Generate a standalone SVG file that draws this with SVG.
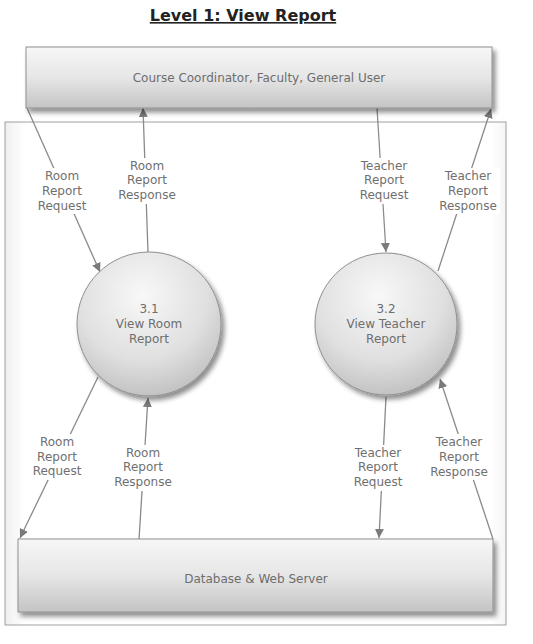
<svg xmlns="http://www.w3.org/2000/svg" width="533" height="644" viewBox="0 0 533 644">
<defs>
<linearGradient id="boxg" x1="0" y1="0" x2="0" y2="1">
<stop offset="0" stop-color="#f7f7f7"/>
<stop offset="0.5" stop-color="#e6e6e6"/>
<stop offset="1" stop-color="#c4c4c4"/>
</linearGradient>
<radialGradient id="circg" cx="0.45" cy="0.3" r="0.75">
<stop offset="0" stop-color="#f8f8f8"/>
<stop offset="0.6" stop-color="#e0e0e0"/>
<stop offset="1" stop-color="#bdbdbd"/>
</radialGradient>
<linearGradient id="frameg" x1="0" y1="0" x2="1" y2="0">
<stop offset="0" stop-color="#efefef"/>
<stop offset="0.04" stop-color="#ffffff"/>
<stop offset="0.97" stop-color="#ffffff"/>
<stop offset="1" stop-color="#f4f4f4"/>
</linearGradient>
<filter id="sh" x="-10%" y="-10%" width="125%" height="140%">
<feGaussianBlur in="SourceAlpha" stdDeviation="2.5"/>
<feOffset dx="3" dy="4" result="b"/>
<feComponentTransfer><feFuncA type="linear" slope="0.45"/></feComponentTransfer>
<feMerge><feMergeNode/><feMergeNode in="SourceGraphic"/></feMerge>
</filter>
<marker id="ah" viewBox="0 0 10 10" refX="10" refY="5" markerWidth="9" markerHeight="9" markerUnits="userSpaceOnUse" orient="auto">
<path d="M0,0 L10,5 L0,10 z" fill="#7a7a7a"/>
</marker>
</defs>
<style>
.t{font-family:"DejaVu Sans",Verdana,sans-serif;font-size:12px;fill:#6e6e6e;text-anchor:middle}
.lbl{font-family:"DejaVu Sans",Verdana,sans-serif;font-size:12px;fill:#707070;text-anchor:middle}
.ln{stroke:#8a8a8a;stroke-width:1.3;fill:none;marker-end:url(#ah)}
.bg{fill:#ffffff}
.ent{fill:url(#boxg);stroke:#8f8f8f;stroke-width:1}
.proc{fill:url(#circg);stroke:#8f8f8f;stroke-width:1}
</style>
<rect width="533" height="644" fill="#ffffff"/>
<text x="243" y="21" font-family="'DejaVu Sans',Verdana,sans-serif" font-size="16" font-weight="bold" fill="#222" text-anchor="middle" text-decoration="underline">Level 1: View Report</text>
<g id="frame">
<rect x="5" y="122" width="501" height="503" fill="url(#frameg)" stroke="#a0a0a0" stroke-width="1"/>
</g>
<g id="connectors">
<line class="ln" x1="27" y1="108" x2="100" y2="272"/>
<line class="ln" x1="148" y1="252" x2="143" y2="108"/>
<line class="ln" x1="377" y1="108" x2="386" y2="252"/>
<line class="ln" x1="438" y1="271" x2="491" y2="109"/>
<line class="ln" x1="98" y1="377" x2="20" y2="538"/>
<line class="ln" x1="139" y1="539" x2="148" y2="398"/>
<line class="ln" x1="386" y1="397" x2="379" y2="538"/>
<line class="ln" x1="493" y1="539" x2="440" y2="379"/>
</g>
<g id="labels">
<g id="l1"><rect class="bg" x="35" y="168" width="54" height="46"/><text class="lbl" x="62" y="180">Room</text><text class="lbl" x="62" y="195">Report</text><text class="lbl" x="62" y="210">Request</text></g>
<g id="l2"><rect class="bg" x="115" y="158" width="64" height="46"/><text class="lbl" x="147" y="170">Room</text><text class="lbl" x="147" y="184">Report</text><text class="lbl" x="147" y="199">Response</text></g>
<g id="l3"><rect class="bg" x="354" y="158" width="60" height="46"/><text class="lbl" x="384" y="170">Teacher</text><text class="lbl" x="384" y="184">Report</text><text class="lbl" x="384" y="199">Request</text></g>
<g id="l4"><rect class="bg" x="436" y="168" width="64" height="46"/><text class="lbl" x="468" y="180">Teacher</text><text class="lbl" x="468" y="195">Report</text><text class="lbl" x="468" y="210">Response</text></g>
<g id="l5"><rect class="bg" x="30" y="434" width="54" height="46"/><text class="lbl" x="57" y="446">Room</text><text class="lbl" x="57" y="461">Report</text><text class="lbl" x="57" y="475">Request</text></g>
<g id="l6"><rect class="bg" x="111" y="445" width="64" height="46"/><text class="lbl" x="143" y="457">Room</text><text class="lbl" x="143" y="471">Report</text><text class="lbl" x="143" y="486">Response</text></g>
<g id="l7"><rect class="bg" x="348" y="445" width="60" height="46"/><text class="lbl" x="378" y="457">Teacher</text><text class="lbl" x="378" y="471">Report</text><text class="lbl" x="378" y="486">Request</text></g>
<g id="l8"><rect class="bg" x="427" y="434" width="64" height="46"/><text class="lbl" x="459" y="446">Teacher</text><text class="lbl" x="459" y="461">Report</text><text class="lbl" x="459" y="476">Response</text></g>
</g>
<g id="users">
<rect class="ent" x="26" y="47" width="466" height="61" filter="url(#sh)"/>
<text class="t" x="259" y="82">Course Coordinator, Faculty, General User</text>
</g>
<g id="p31">
<circle class="proc" cx="149" cy="324" r="72" filter="url(#sh)"/>
<text class="t" x="149" y="313">3.1</text>
<text class="t" x="149" y="328">View Room</text>
<text class="t" x="149" y="343">Report</text>
</g>
<g id="p32">
<circle class="proc" cx="386" cy="324" r="71" filter="url(#sh)"/>
<text class="t" x="386" y="313">3.2</text>
<text class="t" x="386" y="328">View Teacher</text>
<text class="t" x="386" y="343">Report</text>
</g>
<g id="db">
<rect class="ent" x="18" y="539" width="475" height="73" filter="url(#sh)"/>
<text class="t" x="256" y="583">Database &amp; Web Server</text>
</g>
</svg>
